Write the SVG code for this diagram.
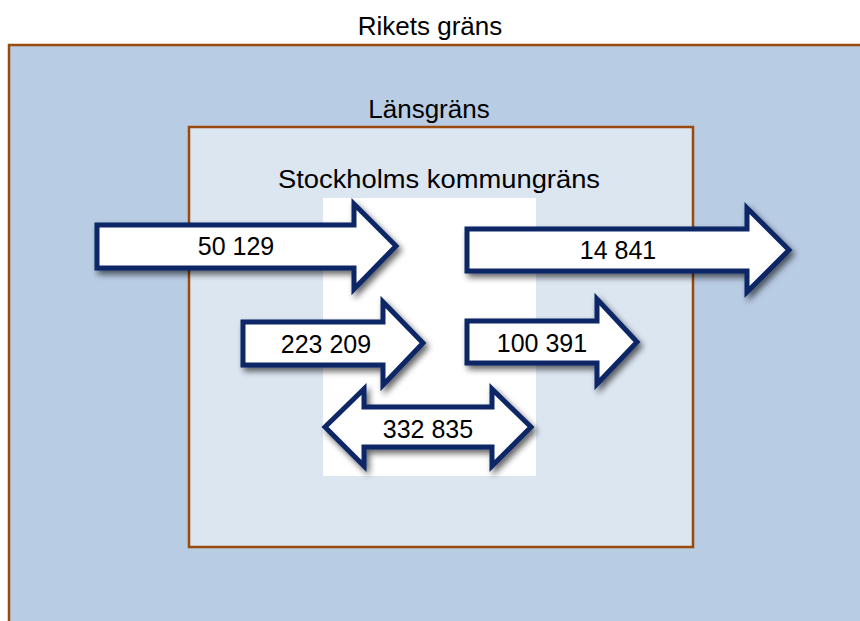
<svg xmlns="http://www.w3.org/2000/svg" width="860" height="621" viewBox="0 0 860 621">
<style>
.border{stroke:#9a4a0c;stroke-width:2.5}
.arrow{fill:#ffffff;stroke:#0d2766;stroke-width:5;stroke-linejoin:miter;filter:url(#sh)}
.lbl{font-family:"Liberation Sans",Arial,sans-serif;font-size:25px;fill:#000;text-anchor:middle}
.ttl{font-family:"Liberation Sans",Arial,sans-serif;font-size:26px;fill:#000;text-anchor:middle}
</style>
<defs>
<filter id="sh" x="-20%" y="-30%" width="140%" height="170%">
<feGaussianBlur in="SourceAlpha" stdDeviation="3"/>
<feOffset dx="3" dy="4" result="b"/>
<feComponentTransfer><feFuncA type="linear" slope="0.6"/></feComponentTransfer>
<feMerge><feMergeNode/><feMergeNode in="SourceGraphic"/></feMerge>
</filter>
</defs>
<rect width="860" height="621" fill="#ffffff"/>
<g id="riket">
<rect class="border" x="9" y="45" width="860" height="600" fill="#b8cce4"/>
<text class="ttl" x="430" y="35">Rikets gräns</text>
</g>
<g id="lan">
<rect class="border" x="189" y="127" width="504" height="420" fill="#dce6f1"/>
<text class="ttl" x="429" y="118">Länsgräns</text>
</g>
<g id="kommun">
<rect x="323" y="198" width="213" height="278" fill="#ffffff"/>
<text class="ttl" x="439" y="188" textLength="322" lengthAdjust="spacingAndGlyphs">Stockholms kommungräns</text>
</g>
<g id="connectors">
<g id="a50129">
<polygon class="arrow" points="97,225 354,225 354,204 396,246 354,289 354,268 97,268"/>
<text class="lbl" x="236" y="255">50 129</text>
</g>
<g id="a14841">
<polygon class="arrow" points="467,229 747,229 747,208 789,250 747,292 747,271 467,271"/>
<text class="lbl" x="618" y="259">14 841</text>
</g>
<g id="a223209">
<polygon class="arrow" points="243,322 383,322 383,302 423,343 383,385 383,365 243,365"/>
<text class="lbl" x="326" y="353">223 209</text>
</g>
<g id="a100391">
<polygon class="arrow" points="467,321 597,321 597,299 637,342 597,384 597,363 467,363"/>
<text class="lbl" x="542" y="352">100 391</text>
</g>
<g id="a332835">
<polygon class="arrow" points="325,427 364,389 364,407 492,407 492,389 531,427 492,466 492,447 364,447 364,466"/>
<text class="lbl" x="428" y="438">332 835</text>
</g>
</g>
</svg>
